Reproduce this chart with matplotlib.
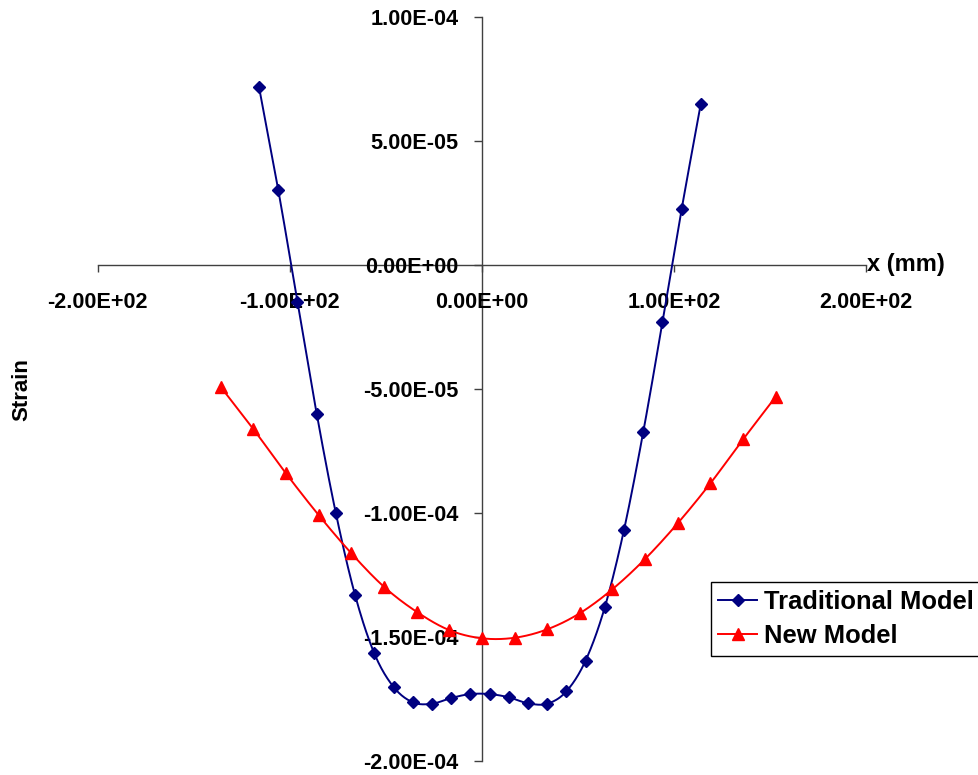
import matplotlib
matplotlib.use('Agg')
import matplotlib.pyplot as plt
import numpy as np
from matplotlib.ticker import FuncFormatter

plt.rcParams['font.family'] = ['Liberation Sans', 'DejaVu Sans']
plt.rcParams['font.weight'] = 'bold'

# strain along x for both models
x_trad = [-116, -106, -96, -86, -76, -66, -56, -46, -36, -26, -16, -6,
          4, 14, 24, 34, 44, 54, 64, 74, 84, 94, 104, 114]
strain_trad = [7.18e-5, 3.04e-5, -1.47e-5, -5.98e-5, -1.00e-4, -1.33e-4,
               -1.565e-4, -1.70e-4, -1.762e-4, -1.768e-4, -1.745e-4, -1.729e-4,
               -1.729e-4, -1.742e-4, -1.766e-4, -1.768e-4, -1.718e-4, -1.594e-4,
               -1.379e-4, -1.067e-4, -6.73e-5, -2.30e-5, 2.26e-5, 6.52e-5]

x_new = [-136, -119, -102, -85, -68, -51, -34, -17, 0,
         17, 34, 51, 68, 85, 102, 119, 136, 153]
strain_new = [-4.90e-5, -6.60e-5, -8.39e-5, -1.007e-4, -1.161e-4, -1.296e-4,
              -1.397e-4, -1.471e-4, -1.504e-4, -1.502e-4, -1.468e-4, -1.403e-4,
              -1.306e-4, -1.184e-4, -1.040e-4, -8.79e-5, -7.02e-5, -5.30e-5]


def smooth(xs, ys, n=20):
    # bezier smoothing through the points, like a spreadsheet "smoothed line"
    p = np.column_stack([xs, ys]).astype(float)
    out = [p[0]]
    for i in range(len(p) - 1):
        p0 = p[i - 1] if i > 0 else p[i]
        p1, p2 = p[i], p[i + 1]
        p3 = p[i + 2] if i + 2 < len(p) else p[i + 1]
        c1 = p1 + (p2 - p0) / 6
        c2 = p2 - (p3 - p1) / 6
        t = np.linspace(0, 1, n)[1:, None]
        seg = ((1 - t) ** 3 * p1 + 3 * (1 - t) ** 2 * t * c1
               + 3 * (1 - t) * t ** 2 * c2 + t ** 3 * p2)
        out.extend(seg)
    out = np.array(out)
    return out[:, 0], out[:, 1]


fig = plt.figure(figsize=(9.79, 7.75), dpi=100)
ax = fig.add_axes([0.0998, 0.0177, 0.7848, 0.96])

navy = '#000080'
red = '#ff0000'

sx, sy = smooth(x_trad, strain_trad)
ax.plot(sx, sy, color=navy, lw=1.4, zorder=2)
ax.plot(x_trad, strain_trad, ls='none', marker='D', ms=6.5, color=navy, zorder=3)
sx, sy = smooth(x_new, strain_new)
ax.plot(sx, sy, color=red, lw=1.4, zorder=2)
ax.plot(x_new, strain_new, ls='none', marker='^', ms=9, color=red, zorder=3)

# legend proxies
ax.plot([], [], color=navy, lw=1.4, marker='D', ms=6.5, label='Traditional Model')
ax.plot([], [], color=red, lw=1.4, marker='^', ms=9, label='New Model')

ax.set_xlim(-200, 200)
ax.set_ylim(-2e-4, 1e-4)
ax.set_xticks([-200, -100, 0, 100, 200])
ax.set_yticks([1e-4, 5e-5, 0, -5e-5, -1e-4, -1.5e-4, -2e-4])
fmt = FuncFormatter(lambda v, pos: f'{v:.2E}')
ax.xaxis.set_major_formatter(fmt)
ax.yaxis.set_major_formatter(fmt)

ax.spines['left'].set_position(('data', 0))
ax.spines['bottom'].set_position(('data', 0))
ax.spines['right'].set_visible(False)
ax.spines['top'].set_visible(False)
for s in ('left', 'bottom'):
    ax.spines[s].set_color('#404040')
    ax.spines[s].set_linewidth(1.0)
    ax.spines[s].set_zorder(1)

ax.tick_params(axis='x', direction='out', length=5, width=1, color='#404040',
               labelsize=15.6, pad=14)
ax.tick_params(axis='y', direction='out', length=6, width=1, color='#404040',
               labelsize=15.6, pad=11)
for lab in ax.get_xticklabels() + ax.get_yticklabels():
    lab.set_fontweight('bold')

fig.text(0.886, 1 - 265 / 775, 'x (mm)', fontsize=17, fontweight='bold',
         ha='left', va='center')
fig.text(0.022, 1 - 390 / 775, 'Strain', fontsize=16, fontweight='bold',
         rotation=90, ha='center', va='center')

leg = ax.legend(loc='upper left', bbox_to_anchor=(0.726, 0.249),
                bbox_transform=fig.transFigure, borderaxespad=0,
                fancybox=False, shadow=False, framealpha=1, edgecolor='black',
                prop={'size': 18.4, 'weight': 'bold'}, handlelength=1.5,
                handletextpad=0.3, borderpad=0.3, labelspacing=0.42)
leg.get_frame().set_linewidth(1.0)

fig.savefig('out.png', dpi=100)
